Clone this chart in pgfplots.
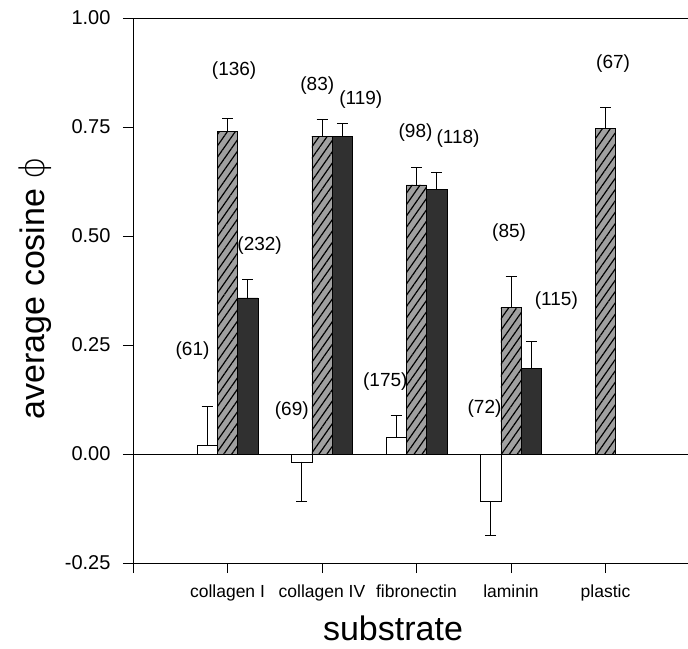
\documentclass[border=0pt]{standalone}
\usepackage{pgfplots}
\pgfplotsset{compat=1.18}
\usetikzlibrary{patterns.meta}
\usepackage{fontspec}
\setmainfont{Liberation Sans}
\newfontfamily\dvfont{DejaVu Sans ExtraLight}
\definecolor{hatchgray}{HTML}{A0A0A0}
\definecolor{darkbar}{HTML}{303030}
\begin{document}
\begin{tikzpicture}
\begin{axis}[
  at={(0,0)}, anchor=south west,
  scale only axis,
  width=555bp, height=545bp,
  xmin=0, xmax=5.873,
  ymin=-0.25, ymax=1.0,
  axis x line*=bottom,
  axis y line*=left,
  axis line style={black, line width=0.6bp},
  xtick={0,1,2,3,4,5},
  xticklabels={,collagen I,collagen IV,fibronectin,laminin,plastic},
  ytick={-0.25,0,0.25,0.5,0.75,1.0},
  yticklabel style={/pgf/number format/fixed,/pgf/number format/precision=2,/pgf/number format/fixed zerofill},
  /pgf/number format/assume math mode=true,
  tick style={black, line width=0.6bp},
  tick align=outside,
  major tick length=10bp,
  y tick label style={font=\fontsize{20bp}{24bp}\selectfont, xshift=-9bp},
  x tick label style={font=\fontsize{17.5bp}{21bp}\selectfont, yshift=-8bp},
  clip=false,
  error bars/y dir=plus,
  error bars/y explicit,
  error bars/error bar style={black, line width=0.7bp},
  error bars/error mark options={black, mark size=5.5bp, line width=0.7bp, rotate=90},
]
\draw[black, line width=0.6bp] (axis cs:0,0) -- (axis cs:5.873,0);
\draw[black, line width=0.6bp] (rel axis cs:0,1) -- (rel axis cs:1,1);
% white bars, positive
\addplot[ybar, bar width=0.215, bar shift=0, draw=black, line width=0.6bp, fill=white]
  coordinates {(0.785,0.020) +- (0,0.090) (2.785,0.038) +- (0,0.050)};
% white bars, negative
\addplot[ybar, bar width=0.215, bar shift=0, draw=black, line width=0.6bp, fill=white,
  error bars/y dir=minus]
  coordinates {(1.785,-0.018) +- (0,0.090) (3.785,-0.108) +- (0,0.079)};
% hatched bars
\addplot[ybar, bar width=0.215, bar shift=0, draw=black, line width=0.6bp, fill=hatchgray,
  postaction={pattern={Lines[angle=55,distance=6.5bp,line width=1.2bp]}, pattern color=black}]
  coordinates {(1,0.740) +- (0,0.029) (2,0.729) +- (0,0.039) (3,0.617) +- (0,0.041) (4,0.336) +- (0,0.071) (5,0.747) +- (0,0.048)};
% dark bars
\addplot[ybar, bar width=0.215, bar shift=0, draw=black, line width=0.6bp, fill=darkbar]
  coordinates {(1.215,0.358) +- (0,0.042) (2.215,0.729) +- (0,0.029) (3.215,0.606) +- (0,0.041) (4.215,0.197) +- (0,0.061)};
% sample sizes
\begin{scope}[every node/.style={font=\fontsize{19bp}{23bp}\selectfont}]
\node at (axis cs:1.07,0.880) {(136)};
\node at (axis cs:0.63,0.237) {(61)};
\node at (axis cs:1.34,0.477) {(232)};
\node at (axis cs:1.95,0.846) {(83)};
\node at (axis cs:2.41,0.813) {(119)};
\node at (axis cs:1.68,0.100) {(69)};
\node at (axis cs:2.99,0.738) {(98)};
\node at (axis cs:3.44,0.723) {(118)};
\node at (axis cs:2.67,0.166) {(175)};
\node at (axis cs:3.98,0.507) {(85)};
\node at (axis cs:3.72,0.104) {(72)};
\node at (axis cs:4.48,0.352) {(115)};
\node at (axis cs:5.08,0.896) {(67)};
\end{scope}
\end{axis}
\node[font=\fontsize{34bp}{40bp}\selectfont] at (260bp,-65bp) {substrate};
\node[rotate=90, font=\fontsize{34bp}{40bp}\selectfont] at (-98bp,275bp) {average cosine {\dvfont ϕ}};
\pgfresetboundingbox
\path (-133bp,-86bp) rectangle (555bp,563bp);
\end{tikzpicture}
\end{document}
